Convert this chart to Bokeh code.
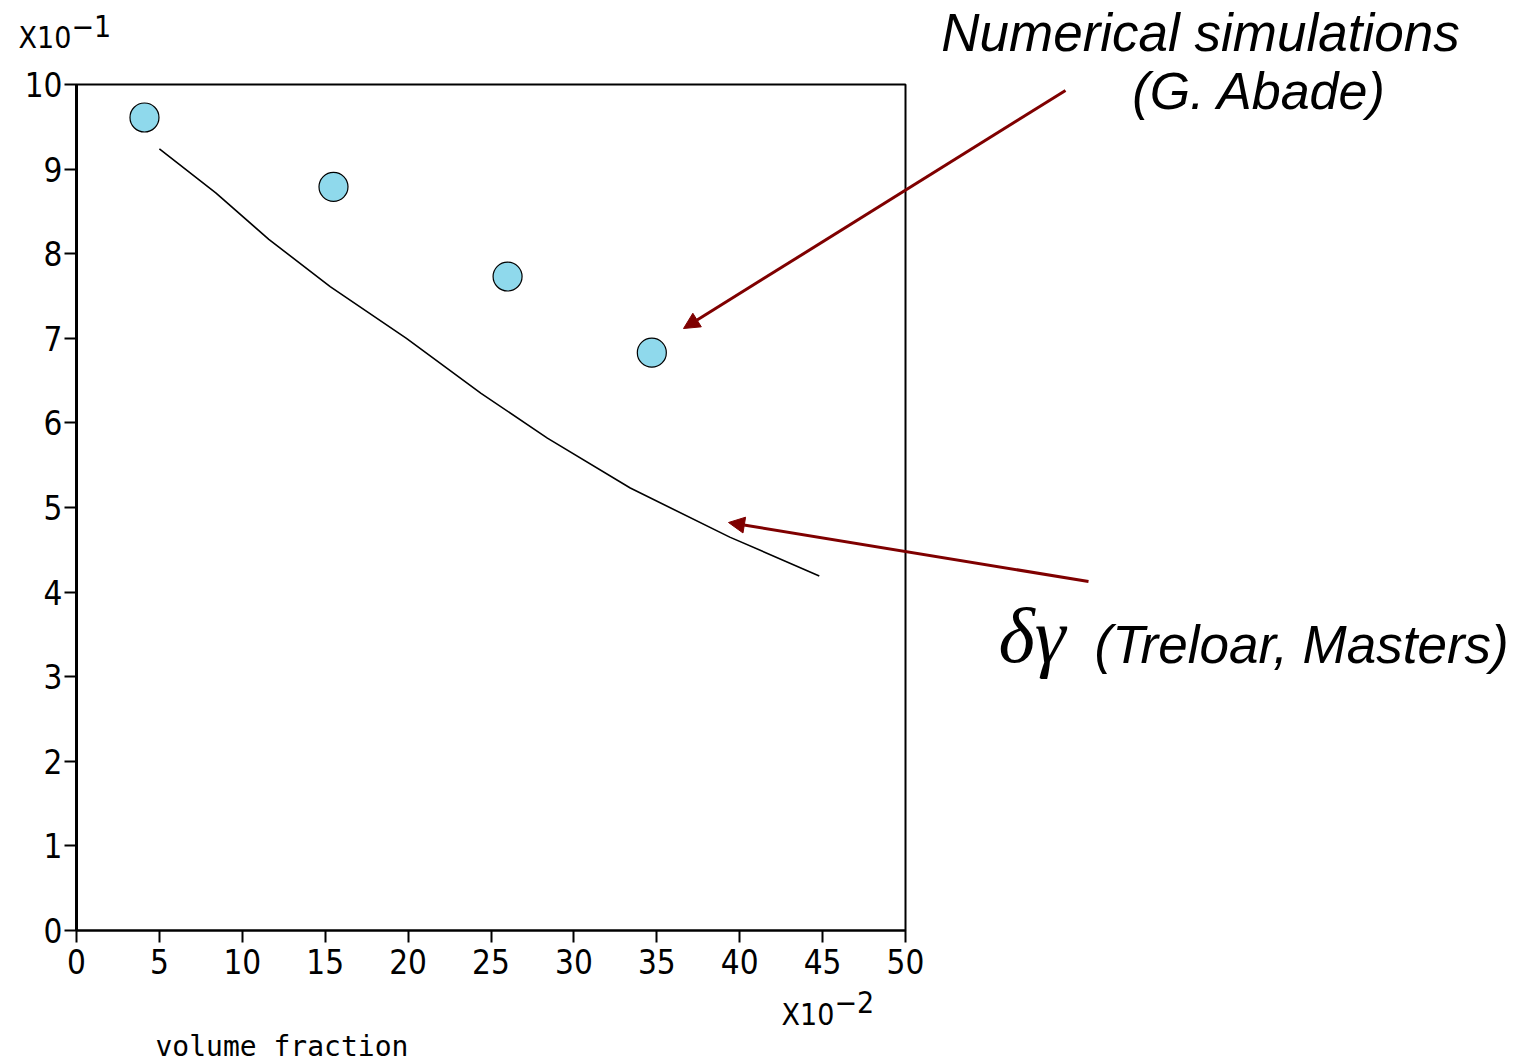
from bokeh.plotting import figure
from bokeh.models import Range1d, Label, Arrow, NormalHead, FixedTicker, LinearAxis, BoxAnnotation
from bokeh.embed import file_html
from bokeh.resources import INLINE

# ---- data ----
sim_phi = [4.1, 15.5, 26.0, 34.7]          # numerical simulations (G. Abade), x10^-2
sim_val = [9.61, 8.79, 7.73, 6.83]         # x10^-1
theory_phi = [5.0, 8.4, 11.6, 15.3, 19.9, 24.4, 28.4, 33.4, 39.4, 44.8]
theory_val = [9.24, 8.72, 8.17, 7.61, 7.00, 6.35, 5.82, 5.23, 4.65, 4.19]
x_ticks = [0, 5, 10, 15, 20, 25, 30, 35, 40, 45, 50]
y_ticks = [0, 1, 2, 3, 4, 5, 6, 7, 8, 9, 10]

W, H = 1524, 1063
L, R, T, B = 76, 905, 84, 930          # pixel box of the data area
X_MIN, X_MAX, Y_MIN, Y_MAX = 0, 50, 0, 10

def px2x(px):
    return X_MIN + (px - L) / (R - L) * (X_MAX - X_MIN)

def px2y(py):
    return Y_MIN + (B - py) / (B - T) * (Y_MAX - Y_MIN)

SCAN_FONT = "'Liberation Sans Narrow', 'DejaVu Sans Condensed', sans-serif"
MONO_FONT = "'DejaVu Sans Mono', monospace"
SANS = "'Liberation Sans', Arial, sans-serif"
DR = "#7f0000"

p = figure(width=W, height=H,
           x_range=Range1d(px2x(0), px2x(W)), y_range=Range1d(px2y(H), px2y(0)),
           output_backend="svg", toolbar_location=None,
           x_axis_type=None, y_axis_type=None,
           min_border=0, min_border_left=0, min_border_right=0,
           min_border_top=0, min_border_bottom=0)
p.grid.visible = False
p.outline_line_color = None
p.background_fill_color = "white"
p.border_fill_color = "white"

xaxis = LinearAxis(fixed_location=Y_MIN, bounds=(X_MIN, X_MAX), ticker=FixedTicker(ticks=x_ticks))
yaxis = LinearAxis(fixed_location=X_MIN, bounds=(Y_MIN, Y_MAX), ticker=FixedTicker(ticks=y_ticks))
for ax in (xaxis, yaxis):
    ax.minor_tick_line_color = None
    ax.major_tick_in = 0
    ax.major_tick_out = 12
    ax.major_tick_line_width = 2
    ax.axis_line_width = 2
    ax.axis_line_color = "black"
    ax.major_tick_line_color = "black"
    ax.major_label_text_font = SCAN_FONT
    ax.major_label_text_font_size = "33px"
    ax.major_label_text_color = "black"
xaxis.major_label_standoff = 6
yaxis.major_label_standoff = 2
yaxis.major_label_text_baseline = "bottom"
yaxis.axis_line_width = 3
p.add_layout(xaxis, "below")
p.add_layout(yaxis, "left")

# frame box (top and right edges)
p.add_layout(BoxAnnotation(left=X_MIN, right=X_MAX, bottom=Y_MIN, top=Y_MAX,
                           fill_alpha=0, line_color="black", line_alpha=1, line_width=2))

# theory curve
p.line(theory_phi, theory_val, line_color="black", line_width=1.6)
# simulation points
p.scatter(sim_phi, sim_val, size=29, fill_color="#8fd9ec", line_color="black", line_width=1.2)

# ---- texts ----
def lab(text, px, py_base, size, font, style="normal", align="left"):
    # place by baseline: labels are drawn with their middle at the anchor
    py = py_base - 0.37 * size
    p.add_layout(Label(x=px2x(px), y=px2y(py), text=text, text_font=font,
                       text_font_size=f"{size}px", text_font_style=style, text_align=align,
                       text_baseline="middle", text_color="black"))

lab("X10", 18, 48, 30, SCAN_FONT)
lab("\u22121", 71, 37, 30, SCAN_FONT)
lab("X10", 781, 1025, 30, SCAN_FONT)
lab("\u22122", 834, 1013, 30, SCAN_FONT)
lab("volume fraction", 155, 1056, 28, MONO_FONT)

lab("Numerical simulations", 1200, 52, 53, SANS, "italic", "center")
lab("(G. Abade)", 1259, 110, 52, SANS, "italic", "center")
lab("\u03b4\u03b3", 998, 664, 78, "'Liberation Serif', serif", "italic")
lab("(Treloar, Masters)", 1094, 664, 53, SANS, "italic")

# ---- arrows ----
p.add_layout(Arrow(end=NormalHead(size=16, fill_color=DR, line_color=DR),
                   x_start=px2x(1065), y_start=px2y(90), x_end=px2x(683), y_end=px2y(328),
                   line_color=DR, line_width=3))
p.add_layout(Arrow(end=NormalHead(size=16, fill_color=DR, line_color=DR),
                   x_start=px2x(1088), y_start=px2y(581), x_end=px2x(728), y_end=px2y(522),
                   line_color=DR, line_width=3))

open("out.html", "w").write(file_html(p, INLINE))
